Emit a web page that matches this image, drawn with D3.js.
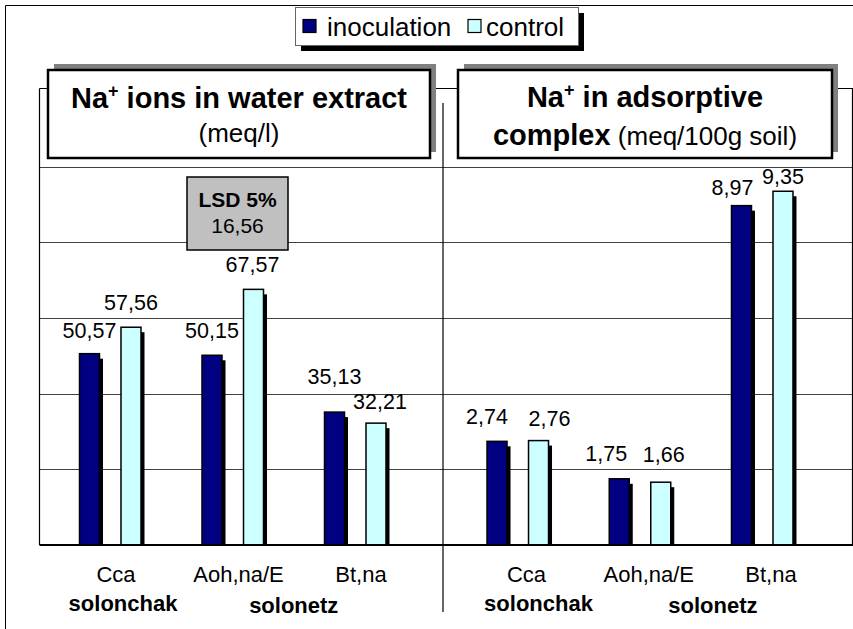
<!DOCTYPE html>
<html>
<head>
<meta charset="utf-8">
<script src="https://cdn.jsdelivr.net/npm/d3@7"></script>
<style>
  body { margin: 0; background: #fff; }
  svg { display: block; font-family: Arial, 'Liberation Sans', sans-serif; }
  .grid line { stroke: #404040; stroke-width: 1; shape-rendering: crispEdges; }
  .grid .domain { display: none; }
</style>
</head>
<body>
<svg id="chart" width="853" height="629"></svg>
<script>
// data
const categories = ['Cca', 'Aoh,na/E', 'Bt,na'];
const series_names = ['inoculation', 'control'];
const series_colors = ['#000080', '#ccffff'];
const water_inoculation = [50.57, 50.15, 35.13];
const water_control = [57.56, 67.57, 32.21];
const complex_inoculation = [2.74, 1.75, 8.97];
const complex_control = [2.76, 1.66, 9.35];
const water_ticks = [0, 20, 40, 60, 80, 100, 120];
const complex_ticks = [0, 2, 4, 6, 8, 10, 12];
const soil_groups = ['solonchak', 'solonetz'];
const soil_group_members = [['Cca'], ['Aoh,na/E', 'Bt,na']];
const lsd_label = 'LSD 5%';
const lsd_value = 16.56;

const fmt = function(v) {
  return d3.format('.2f')(v).replace('.', ',');
};

const svg = d3.select('#chart');
const base_y = 545;
const top_y = 91;
const frame_top = 88.5;
const plot_left = 39.5;
const plot_right = 852.5;

// outer frame (only top/left visible)
svg.append('line').attr('x1', 5.5).attr('y1', 5.5).attr('x2', 853).attr('y2', 5.5)
  .attr('stroke', '#000').attr('stroke-width', 1);
svg.append('line').attr('x1', 5.5).attr('y1', 5.5).attr('x2', 5.5).attr('y2', 629)
  .attr('stroke', '#000').attr('stroke-width', 1);

const panels = [
  {
    x_range: [48.75, 416.25],
    y_domain: [0, 120],
    ticks: water_ticks,
    series: [water_inoculation, water_control],
    nudges: [[[0, 1], [0, 0], [0, -11]], [[0, 0], [-1, 0], [4, 3]]],
    cat_dx: 6,
    group_dx: [13, 0]
  },
  {
    x_range: [456.4, 823.1],
    y_domain: [0, 12],
    ticks: complex_ticks,
    series: [complex_inoculation, complex_control],
    nudges: [[[-10, 0], [-13, -1], [-9, 6]], [[11, 2], [3, -3], [0, 10]]],
    cat_dx: 9,
    group_dx: [21, 12]
  }
];

// shared grid lines from the left panel scale
const y_grid = d3.scaleLinear().domain(panels[0].y_domain).range([base_y, top_y]);
svg.append('g').attr('class', 'grid')
  .attr('transform', 'translate(' + plot_left + ',0)')
  .call(d3.axisLeft(y_grid).tickValues(water_ticks.slice(1, -1))
    .tickSize(-(853 - plot_left)).tickFormat(''));

// plot frame lines
svg.append('line').attr('x1', plot_left).attr('y1', frame_top).attr('x2', 853).attr('y2', frame_top)
  .attr('stroke', '#000').attr('stroke-width', 1.2);
svg.append('line').attr('x1', plot_left).attr('y1', frame_top).attr('x2', plot_left).attr('y2', base_y)
  .attr('stroke', '#000').attr('stroke-width', 1.2);
svg.append('line').attr('x1', plot_right).attr('y1', frame_top).attr('x2', plot_right).attr('y2', base_y)
  .attr('stroke', '#000').attr('stroke-width', 1.2);
svg.append('line').attr('x1', 443).attr('y1', 103).attr('x2', 443).attr('y2', 612)
  .attr('stroke', '#000').attr('stroke-width', 1.2);

const draw_panel = function(p) {
  let x = d3.scaleBand().domain(categories).range(p.x_range).paddingInner(0).paddingOuter(0);
  let xs = d3.scaleBand().domain(series_names).range([-30.5, 31]).paddingInner(0.518);
  let y = d3.scaleLinear().domain(p.y_domain).range([base_y, top_y]);
  let g = svg.append('g');
  let center = function(c) { return x(c) + x.bandwidth() / 2; };

  series_names.forEach(function(s, si) {
    let vals = p.series[si];
    let rows = categories.map(function(c, ci) {
      return { cat: c, value: vals[ci], nudge: p.nudges[si][ci] };
    });
    // shadows
    g.selectAll('.shadow-' + si).data(rows).enter().append('rect')
      .attr('x', d => center(d.cat) + xs(s) + 3.5)
      .attr('y', d => y(d.value) + 5)
      .attr('width', xs.bandwidth())
      .attr('height', d => base_y - y(d.value) - 5)
      .attr('fill', '#000');
    g.selectAll('.bar-' + si).data(rows).enter().append('rect')
      .attr('x', d => center(d.cat) + xs(s))
      .attr('y', d => y(d.value))
      .attr('width', xs.bandwidth())
      .attr('height', d => base_y - y(d.value))
      .attr('fill', series_colors[si])
      .attr('stroke', '#000')
      .attr('stroke-width', 1.5);
    g.selectAll('.val-' + si).data(rows).enter().append('text')
      .attr('x', d => center(d.cat) + xs(s) + xs.bandwidth() / 2 + d.nudge[0])
      .attr('y', d => y(d.value) - 17 + d.nudge[1])
      .attr('text-anchor', 'middle')
      .attr('font-size', 21.5)
      .text(d => fmt(d.value));
  });

  // category labels
  g.selectAll('.cat').data(categories).enter().append('text')
    .attr('x', d => center(d) + p.cat_dx)
    .attr('y', 582)
    .attr('text-anchor', 'middle')
    .attr('font-size', 22)
    .text(d => d);

  // soil group labels
  g.selectAll('.soil').data(soil_groups).enter().append('text')
    .attr('x', (d, i) => d3.mean(soil_group_members[i], center) + p.group_dx[i])
    .attr('y', (d, i) => i === 0 ? 611 : 613)
    .attr('text-anchor', 'middle')
    .attr('font-size', 22)
    .attr('font-weight', 'bold')
    .text(d => d);

  return { x: x, y: y, center: center };
};

const left = draw_panel(panels[0]);
const right = draw_panel(panels[1]);

// baseline
svg.append('line').attr('x1', plot_left).attr('y1', base_y).attr('x2', 853).attr('y2', base_y)
  .attr('stroke', '#000').attr('stroke-width', 2);

// title boxes
const title_box = function(x0, x1) {
  svg.append('rect').attr('x', x0 + 6).attr('y', 70 - 6).attr('width', x1 - x0).attr('height', 88)
    .attr('fill', '#808080');
  svg.append('rect').attr('x', x0).attr('y', 70).attr('width', x1 - x0).attr('height', 88)
    .attr('fill', '#fff').attr('stroke', '#000').attr('stroke-width', 2.5);
};
title_box(48, 430);
title_box(458, 832);

let t1 = svg.append('text').attr('x', 239).attr('y', 108).attr('text-anchor', 'middle')
  .attr('font-size', 29).attr('font-weight', 'bold');
t1.append('tspan').text('Na');
t1.append('tspan').attr('font-size', 18).attr('dy', -11).text('+');
t1.append('tspan').attr('dy', 11).text(' ions in water extract');
svg.append('text').attr('x', 239).attr('y', 142).attr('text-anchor', 'middle')
  .attr('font-size', 26).text('(meq/l)');

let t2 = svg.append('text').attr('x', 645).attr('y', 107).attr('text-anchor', 'middle')
  .attr('font-size', 29).attr('font-weight', 'bold');
t2.append('tspan').text('Na');
t2.append('tspan').attr('font-size', 18).attr('dy', -11).text('+');
t2.append('tspan').attr('dy', 11).text(' in adsorptive');
let t3 = svg.append('text').attr('x', 645).attr('y', 145).attr('text-anchor', 'middle')
  .attr('font-size', 26);
t3.append('tspan').attr('font-weight', 'bold').attr('font-size', 29).text('complex');
t3.append('tspan').text(' (meq/100g soil)');

// LSD box
const lsd_cx = left.center('Aoh,na/E') + 5;
svg.append('rect').attr('x', lsd_cx - 50.5).attr('y', 177).attr('width', 101).attr('height', 73)
  .attr('fill', '#c0c0c0').attr('stroke', '#000').attr('stroke-width', 1.5);
svg.append('text').attr('x', lsd_cx).attr('y', 207).attr('text-anchor', 'middle')
  .attr('font-size', 21).attr('font-weight', 'bold').text(lsd_label);
svg.append('text').attr('x', lsd_cx).attr('y', 233).attr('text-anchor', 'middle')
  .attr('font-size', 21).text(fmt(lsd_value));

// legend
const lg = svg.append('g');
lg.append('rect').attr('x', 301).attr('y', 13).attr('width', 283).attr('height', 38).attr('fill', '#000');
lg.append('rect').attr('x', 295.5).attr('y', 7.5).attr('width', 283).attr('height', 38)
  .attr('fill', '#fff').attr('stroke', '#666').attr('stroke-width', 1);
const legend_x = [303, 468];
const legend_text_x = [327, 486];
series_names.forEach(function(s, i) {
  lg.append('rect').attr('x', legend_x[i]).attr('y', 19.5).attr('width', 13).attr('height', 13)
    .attr('fill', series_colors[i]).attr('stroke', '#000').attr('stroke-width', 1.2);
  lg.append('text').attr('x', legend_text_x[i]).attr('y', 36).attr('font-size', 26).text(s);
});
</script>
</body>
</html>
